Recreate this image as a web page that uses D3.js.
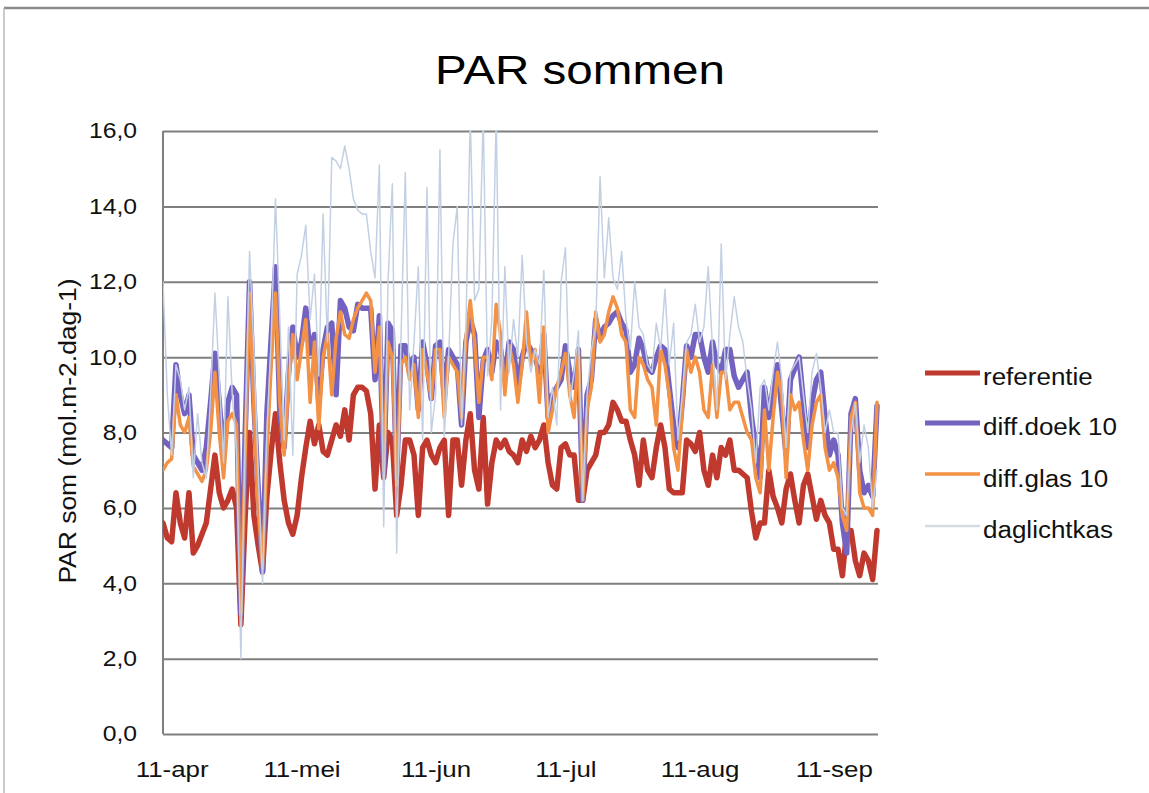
<!DOCTYPE html>
<html><head><meta charset="utf-8">
<script src="https://cdn.jsdelivr.net/npm/d3@7"></script>
<style>
html,body{margin:0;padding:0;background:#fff;}
svg{display:block;font-family:"Liberation Sans",Arial,Helvetica,sans-serif;}
</style></head>
<body><svg id="c" width="1149" height="793"></svg>
<script>
// ---- data (daily values, first day = 9 april) ----
const startDate = new Date(2011, 3, 9);
const referentie = [5.6,5.2,5.1,6.4,5.6,5.2,6.4,4.8,5.0,5.3,5.6,6.5,7.4,6.4,6.0,6.2,6.5,6.0,2.9,5.8,8.0,5.8,5.0,4.3,6.3,7.5,8.5,7.2,6.2,5.6,5.3,5.8,6.8,7.6,8.3,7.7,8.2,7.5,7.4,7.8,8.2,7.9,8.6,7.8,9.0,9.2,9.2,9.1,8.5,6.5,8.2,6.8,8.0,7.8,5.8,6.6,7.8,7.8,7.4,5.8,7.6,7.8,7.4,7.2,7.6,7.8,5.8,7.8,7.8,6.6,7.8,8.5,7.0,6.5,8.4,6.1,7.2,7.8,7.6,7.8,7.5,7.4,7.2,7.8,7.5,7.9,7.6,7.8,8.2,7.2,6.6,6.5,7.6,7.7,7.4,7.4,6.2,6.2,7.0,7.2,7.4,8.0,8.0,8.2,8.8,8.6,8.3,8.3,7.8,7.4,6.6,7.8,7.0,6.8,7.6,8.2,7.6,6.5,6.4,6.4,6.4,7.8,7.7,7.5,8.0,7.0,6.6,7.4,6.8,7.6,7.4,7.8,7.0,7.0,6.9,6.8,5.9,5.2,5.6,5.6,7.0,6.3,6.0,5.6,6.5,6.9,6.2,5.6,6.6,6.9,6.3,5.7,6.2,5.8,5.6,4.9,4.9,4.2,5.4,5.4,4.6,4.2,4.8,4.6,4.1,5.4];
const diffDoek = [7.8,7.7,7.6,9.8,9.0,8.5,9.0,7.4,7.2,7.0,7.6,8.8,10.1,8.8,7.4,8.8,9.2,9.0,3.2,8.0,12.0,8.8,6.5,4.3,8.5,10.5,12.4,8.5,7.6,9.6,10.8,10.0,10.4,11.3,10.1,10.6,8.8,10.2,10.8,10.9,9.0,11.5,11.3,10.8,10.7,11.4,11.3,11.3,11.3,9.4,11.1,6.9,10.9,10.7,6.8,10.3,10.3,9.6,10.0,8.6,10.4,9.8,8.9,10.3,10.4,9.0,10.2,10.0,9.8,8.2,10.4,11.0,10.6,8.4,9.9,10.2,9.6,10.4,10.2,9.4,10.4,10.2,9.2,10.0,10.4,10.2,10.0,9.6,10.6,8.4,9.0,9.2,9.4,10.3,9.6,9.2,10.2,6.2,9.0,9.4,11.0,10.5,10.8,10.9,11.1,11.2,10.9,10.7,9.6,9.8,10.5,10.2,9.7,9.6,10.0,10.3,10.2,9.2,8.2,7.6,8.8,10.3,10.0,10.6,10.6,10.0,9.6,10.4,9.8,9.6,10.2,10.2,9.5,9.2,9.4,9.6,8.4,7.6,6.8,9.2,8.4,9.2,9.8,8.6,7.4,9.4,9.7,10.0,8.8,7.6,8.8,9.4,9.6,8.4,7.4,7.8,7.4,5.6,4.8,8.5,8.9,7.0,6.4,6.6,6.3,8.7];
const diffGlas = [7.0,7.2,7.3,9.0,8.2,8.0,8.4,7.1,6.9,6.7,7.0,8.0,9.6,8.0,6.8,8.3,8.5,8.2,3.2,7.5,11.7,8.6,6.0,4.4,7.4,9.8,11.7,8.8,7.4,9.2,10.6,9.4,10.2,11.0,8.8,10.4,8.1,10.0,10.6,9.0,10.5,11.2,10.6,10.5,11.0,11.3,11.5,11.7,11.5,9.6,10.8,7.0,10.4,10.0,6.6,9.8,10.0,9.4,9.8,8.4,10.2,9.6,8.9,10.2,10.2,8.4,10.0,9.8,9.6,8.4,10.5,11.5,10.4,8.8,10.0,10.0,9.4,11.4,10.6,9.0,10.3,9.8,8.8,9.8,11.2,9.8,10.2,8.8,10.8,8.0,8.6,9.2,9.6,10.1,9.0,8.4,10.2,6.2,8.6,9.2,11.2,10.4,10.6,11.2,11.6,11.3,10.6,10.4,8.6,8.4,10.0,9.8,9.4,9.2,8.2,10.2,9.8,9.0,7.6,7.0,8.6,10.2,9.6,10.0,9.6,8.6,8.4,9.8,8.4,9.6,9.6,8.6,8.8,8.8,8.4,8.0,7.8,6.8,6.4,8.6,7.0,8.4,9.6,9.0,6.8,9.0,8.6,8.8,7.8,7.0,8.2,8.8,9.0,7.6,7.0,7.2,6.8,5.8,5.4,8.4,8.8,6.4,6.0,6.0,5.8,8.8];
const daglichtkas = [12.0,9.0,7.4,9.8,9.4,8.6,9.2,6.8,8.5,7.2,6.8,9.0,11.7,9.5,7.2,11.6,9.0,7.5,2.0,8.0,12.8,10.2,7.0,4.0,8.0,10.5,14.2,11.0,7.8,10.8,7.4,12.2,12.7,13.5,11.0,12.2,9.5,13.8,10.4,15.3,15.2,15.0,15.6,15.0,14.2,13.9,13.8,13.8,12.8,12.1,15.1,5.5,12.0,14.6,4.8,10.5,14.9,8.6,10.4,12.4,7.8,14.5,8.0,9.0,15.5,7.9,10.0,13.0,14.0,8.2,10.8,16.4,11.5,11.8,16.4,9.5,11.0,16.4,8.6,12.4,9.6,11.0,10.0,12.7,10.4,9.6,10.2,9.8,12.3,8.4,9.2,8.2,12.0,12.9,8.8,9.6,10.7,6.2,9.0,10.2,10.8,14.8,12.1,13.7,12.1,11.8,12.8,11.0,10.2,12.0,10.8,10.6,9.8,9.6,10.9,10.2,11.8,9.8,10.9,7.8,9.0,10.4,10.6,11.4,10.4,10.8,12.4,10.2,8.6,13.0,9.4,10.6,11.6,10.8,10.4,9.4,8.6,7.2,9.2,9.4,8.6,9.6,10.4,9.4,7.6,9.6,9.8,10.0,9.0,8.0,9.6,10.1,9.2,8.0,8.6,8.0,8.0,6.0,5.8,8.0,8.8,7.2,8.2,7.6,6.0,7.0];
const seriesNames = ["referentie","diff.doek 10","diff.glas 10","daglichtkas"];
const seriesColors = ["#c0392f","#7462c0","#f39145","#c3d0e4"];
const legendColors = ["#c0392f","#7462c0","#f39145","#d6dbe3"];
const seriesWidths = [5.5,5.5,3.5,1.5];
const yTicks = [0,2,4,6,8,10,12,14,16];
const monthNames = ["jan","feb","mrt","apr","mei","jun","jul","aug","sep","okt","nov","dec"];
const xTickDates = [new Date(2011,3,11),new Date(2011,4,11),new Date(2011,5,11),new Date(2011,6,11),new Date(2011,7,11),new Date(2011,8,11)];

const allSeries = [referentie, diffDoek, diffGlas, daglichtkas];
const dates = referentie.map((_, i) => d3.timeDay.offset(startDate, i));

const svg = d3.select("#c");
const L = 163, R = 878, T = 131, B = 734;
const STRETCH = 1.15;
function stretch(sel, f) {
  sel.each(function () {
    const w = this.getComputedTextLength();
    d3.select(this).attr("textLength", w * f).attr("lengthAdjust", "spacingAndGlyphs");
  });
}

// frame of the screenshot
svg.append("line").attr("x1",4).attr("x2",1149).attr("y1",8).attr("y2",8).attr("stroke","#8a8a8a").attr("stroke-width",2.5);
svg.append("line").attr("x1",4).attr("x2",4).attr("y1",8).attr("y2",793).attr("stroke","#b8b8b8").attr("stroke-width",1.5);

const x = d3.scaleTime().domain([dates[0], dates[dates.length-1]]).range([L, 877]);
const y = d3.scaleLinear().domain([0,16]).range([B, T]);

// title
const title = svg.append("text").attr("x",580).attr("y",84).attr("text-anchor","middle")
  .attr("font-size",41).attr("fill","#000").text("PAR sommen");
stretch(title, 1.16);

// gridlines
const yAxis = d3.axisLeft(y).tickValues(yTicks).tickSize(-(R-L)).tickPadding(26)
  .tickFormat(d => d3.format(".1f")(d).replace(".", ","));
const gy = svg.append("g").attr("transform",`translate(${L},0)`).call(yAxis);
gy.select(".domain").remove();
gy.selectAll(".tick line").attr("stroke","#7f7f7f").attr("stroke-width",2);
gy.selectAll(".tick text").attr("font-size",21.5).attr("fill","#111")
  .attr("font-family","Liberation Sans, Arial, sans-serif");
stretch(gy.selectAll(".tick text"), STRETCH);

// left border
svg.append("line").attr("x1",L).attr("x2",L).attr("y1",T).attr("y2",B).attr("stroke","#7f7f7f").attr("stroke-width",2);

// x axis labels
const xAxis = d3.axisBottom(x).tickValues(xTickDates).tickSize(0).tickPadding(27)
  .tickFormat(d => d.getDate() + "-" + monthNames[d.getMonth()]);
const gx = svg.append("g").attr("transform",`translate(0,${B})`).call(xAxis);
gx.select(".domain").remove();
gx.selectAll(".tick text").attr("font-size",22.5).attr("fill","#111")
  .attr("font-family","Liberation Sans, Arial, sans-serif");
stretch(gx.selectAll(".tick text"), STRETCH);

// y axis title
const yt = svg.append("text").attr("transform","translate(76,431) rotate(-90)").attr("text-anchor","middle")
  .attr("font-size",23).attr("fill","#111").text("PAR som (mol.m-2.dag-1)");
stretch(yt, STRETCH);

// clip
svg.append("clipPath").attr("id","pc").append("rect").attr("x",L).attr("y",T-1).attr("width",R-L+4).attr("height",B-T+4);

const line = d3.line().x((d,i) => x(dates[i])).y(d => y(d));
const gl = svg.append("g").attr("clip-path","url(#pc)");
allSeries.forEach((s, k) => {
  gl.append("path").datum(s).attr("d", line).attr("fill","none")
    .attr("stroke", seriesColors[k]).attr("stroke-width", seriesWidths[k])
    .attr("stroke-linejoin","round").attr("stroke-linecap","round");
});

// legend
const legLineY = [373, 423, 474, 526];
const legTextY = [385, 435, 487, 538];
seriesNames.forEach((n, k) => {
  svg.append("line").attr("x1",925).attr("x2",980).attr("y1",legLineY[k]).attr("y2",legLineY[k])
    .attr("stroke",legendColors[k]).attr("stroke-width", k===3 ? 2.5 : (k===2 ? 3.5 : 5));
  const t = svg.append("text").attr("x",983).attr("y",legTextY[k]).attr("font-size",23).attr("fill","#111").text(n);
  stretch(t, 1.13);
});
</script></body></html>
